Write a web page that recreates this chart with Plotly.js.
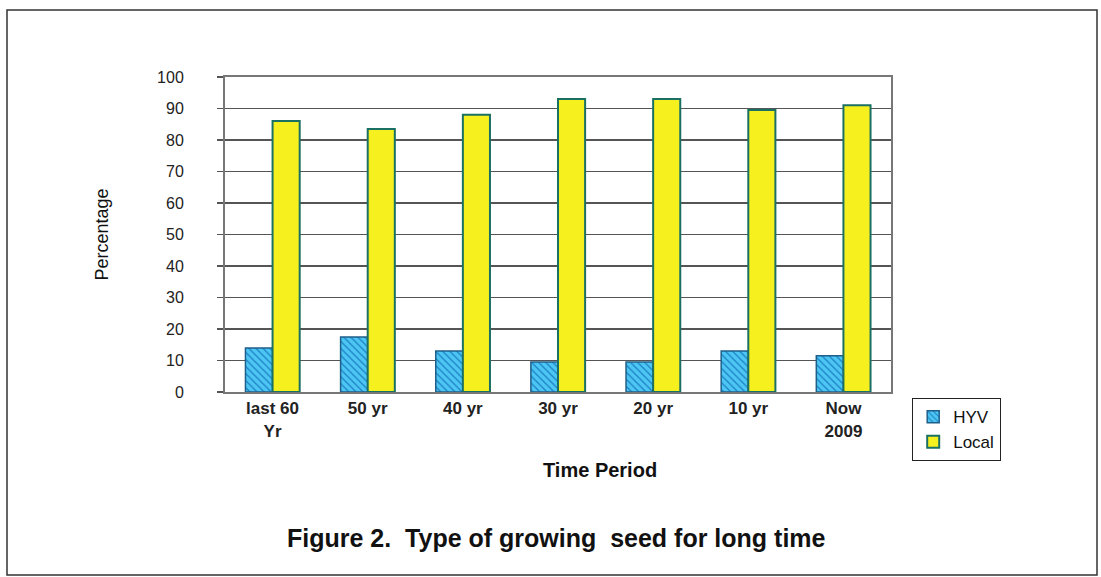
<!DOCTYPE html>
<html>
<head>
<meta charset="utf-8">
<script src="https://cdn.plot.ly/plotly-3.0.1.min.js"></script>
<style>
  html, body { margin: 0; padding: 0; background: #ffffff; }
  #chart { width: 1101px; height: 577px; }
</style>
</head>
<body>
<div id="chart"></div>
<script>
// ---- data ----
const categories = ["last 60<br>Yr", "50 yr", "40 yr", "30 yr", "20 yr", "10 yr", "Now<br>2009"];
const hyvValues = [14, 17.5, 13, 9.5, 9.5, 13, 11.5];
const localValues = [86, 83.5, 88, 93, 93, 89.5, 91];
const yTickValues = [0, 10, 20, 30, 40, 50, 60, 70, 80, 90, 100];
const seriesNames = ["HYV", "Local"];
const xTitle = "Time Period";
const yTitle = "Percentage";
const caption = "Figure 2.  Type of growing  seed for long time";

// ---- layout geometry (pixels) ----
const W = 1101, H = 577;
const mL = 225, mR = 210, mT = 77, mB = 185;
const plotW = W - mL - mR, plotH = H - mT - mB;
const px = x => (x - mL) / plotW;
const py = y => (H - mB - y) / plotH;

const FONT = "Liberation Sans, Arial, sans-serif";

const traces = [
  {
    type: "bar",
    name: seriesNames[0],
    x: categories,
    y: hyvValues,
    marker: {
      color: "#45c0f0",
      line: { color: "#1f5f8a", width: 1.5 },
      pattern: { shape: "\\", fgcolor: "#1e7fc4", bgcolor: "#4cc6f2", size: 5, solidity: 0.25 }
    },
    hoverinfo: "x+y"
  },
  {
    type: "bar",
    name: seriesNames[1],
    x: categories,
    y: localValues,
    marker: {
      color: "#f6f01e",
      line: { color: "#1b7064", width: 2 }
    },
    hoverinfo: "x+y"
  }
];

const layout = {
  width: W,
  height: H,
  margin: { l: mL, r: mR, t: mT, b: mB, pad: 0 },
  paper_bgcolor: "#ffffff",
  plot_bgcolor: "#ffffff",
  font: { family: FONT, color: "#1a1a1a" },
  barmode: "group",
  bargap: 0.43,
  bargroupgap: 0,
  showlegend: true,
  legend: {
    x: px(912), y: py(398),
    xanchor: "left", yanchor: "top",
    bordercolor: "#222222", borderwidth: 1.2,
    bgcolor: "#ffffff",
    font: { family: FONT, size: 17, color: "#111111" },
    itemwidth: 30,
    tracegroupgap: 2
  },
  xaxis: {
    type: "category",
    tickfont: { family: FONT, size: 17, color: "#222222", weight: "bold" },
    showline: true, linecolor: "#777777", linewidth: 2,
    mirror: true,
    ticks: "", showgrid: false,
    automargin: false
  },
  yaxis: {
    range: [0, 100],
    tickvals: yTickValues,
    tickfont: { family: FONT, size: 16, color: "#222222" },
    showline: true, linecolor: "#777777", linewidth: 2,
    mirror: true,
    ticks: "outside", ticklen: 6, tickcolor: "#555555", tickwidth: 1.5,
    ticklabelstandoff: 30,
    showgrid: true, gridcolor: "#555555", gridwidth: 1.5,
    zeroline: false,
    automargin: false,
    title: { text: yTitle, font: { family: FONT, size: 18, color: "#111111" }, standoff: 44 }
  },
  shapes: [
    {
      type: "rect", xref: "paper", yref: "paper",
      x0: px(7), x1: px(1097), y0: py(575), y1: py(10),
      line: { color: "#333333", width: 1.5 }, fillcolor: "rgba(0,0,0,0)", layer: "below"
    }
  ],
  annotations: [
    {
      text: xTitle, xref: "paper", yref: "paper",
      x: px(600), y: py(470), xanchor: "center", yanchor: "middle",
      showarrow: false,
      font: { family: FONT, size: 20, weight: "bold", color: "#111111" }
    },
    {
      text: caption, xref: "paper", yref: "paper",
      x: px(556), y: py(538), xanchor: "center", yanchor: "middle",
      showarrow: false,
      font: { family: FONT, size: 25, weight: "bold", color: "#111111" }
    }
  ]
};

Plotly.newPlot("chart", traces, layout, { displayModeBar: false, staticPlot: true });
</script>
</body>
</html>
